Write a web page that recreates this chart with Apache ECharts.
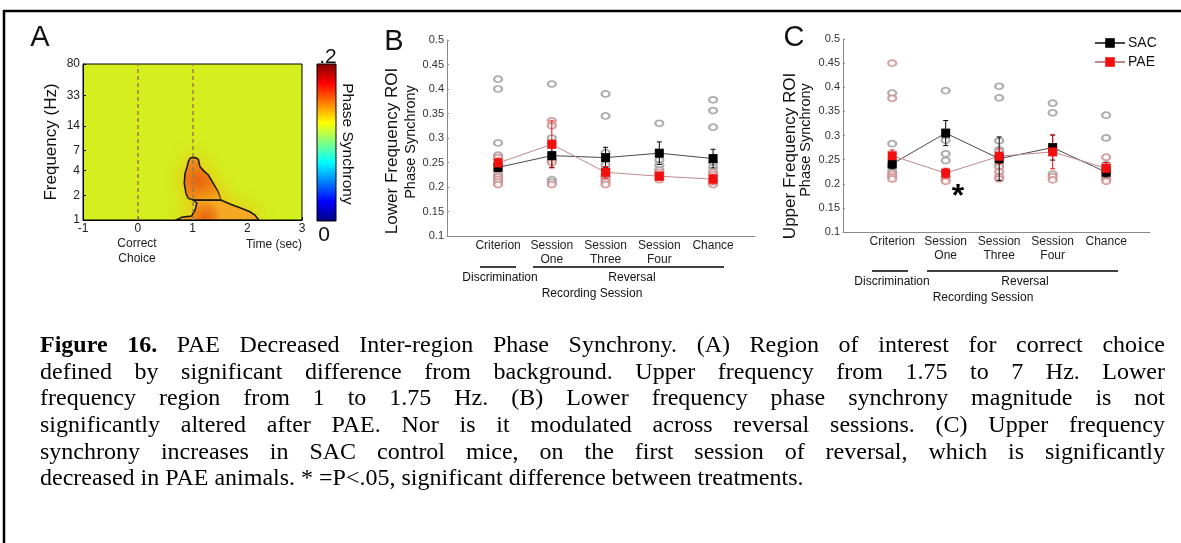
<!DOCTYPE html>
<html><head><meta charset="utf-8">
<script src="https://cdn.jsdelivr.net/npm/echarts@6/dist/echarts.min.js"></script>
<style>html,body{margin:0;padding:0;background:#fff}#c{width:1181px;height:543px}</style>
</head><body><div id="c"></div>
<script>
// ================= DATA =================
// Panel A: time-frequency ROI map
const timeTicks = [-1, 0, 1, 2, 3];
const freqTicks = [1, 2, 4, 7, 14, 33, 80];
const eventTimes = [0, 1];
// ROI contours [time (s), frequency (Hz)]
const roiUpper = [[0.997,5.8],[1.06,5.75],[1.106,5.5],[1.137,4.47],[1.2,4.0],[1.289,3.54],[1.38,2.8],[1.47,2.21],[1.52,1.75],[1.015,1.75],[0.923,1.84],[0.88,2.12],[0.85,2.8],[0.863,3.7],[0.9,4.4],[0.923,5.15],[0.954,5.66]];
const roiLower = [[1.015,1.75],[1.52,1.75],[1.6,1.66],[1.685,1.57],[1.78,1.48],[1.868,1.41],[1.96,1.33],[2.05,1.26],[2.14,1.15],[2.2,1.02],[2.21,1.0],[0.70,1.0],[0.76,1.04],[0.80,1.08],[0.9,1.1],[0.985,1.12],[1.046,1.32],[1.08,1.6]];
const colorbarRange = ['.2', '0'];
const jetColors = ['#7f0000','#ff0000','#ffff00','#00ffff','#0000ff','#00007f'];

// Panels B & C
const sessions = ['Criterion', 'Session\nOne', 'Session\nThree', 'Session\nFour', 'Chance'];
const yTicks = [0.1, 0.15, 0.2, 0.25, 0.3, 0.35, 0.4, 0.45, 0.5];

// B: Lower frequency ROI
const lowSacMean = [0.240, 0.264, 0.260, 0.269, 0.258];
const lowSacSem  = [0.008, 0.024, 0.021, 0.023, 0.019];
const lowPaeMean = [0.249, 0.287, 0.230, 0.222, 0.216];
const lowPaeSem  = [0.010, 0.048, 0.012, 0.008, 0.010];
const lowSacIndiv = [[0.42,0.40,0.29,0.265,0.245,0.225],[0.41,0.30,0.255,0.215,0.21],[0.39,0.345,0.27,0.245,0.235,0.22],[0.33,0.255,0.245,0.235],[0.378,0.356,0.322,0.25,0.24]];
const lowPaeIndiv = [[0.26,0.235,0.22,0.215,0.21,0.205],[0.335,0.325,0.29,0.25,0.205],[0.225,0.215,0.21,0.205],[0.23,0.225,0.22,0.215],[0.23,0.225,0.215,0.21,0.205]];

// C: Upper frequency ROI
const upSacMean = [0.241, 0.305, 0.252, 0.275, 0.224];
const upSacSem  = [0.010, 0.026, 0.045, 0.026, 0.010];
const upPaeMean = [0.258, 0.222, 0.257, 0.266, 0.232];
const upPaeSem  = [0.012, 0.010, 0.015, 0.035, 0.012];
const upSacIndiv = [[0.388,0.283,0.235,0.225],[0.393,0.29,0.262,0.248],[0.402,0.378,0.289,0.27,0.24],[0.367,0.347,0.22],[0.342,0.295,0.24,0.22]];
const upPaeIndiv = [[0.45,0.377,0.24,0.22,0.215,0.21],[0.21,0.205],[0.235,0.225,0.215,0.21],[0.215,0.208],[0.255,0.235,0.225,0.215,0.21,0.205]];
const sigMark = [2.23, 0.172]; // asterisk position (session, value)

// Caption
const captionLines = [
  [['Figure 16.', true], ['PAE Decreased Inter-region Phase Synchrony. (A) Region of interest for correct choice', false]],
  [['defined by significant difference from background. Upper frequency from 1.75 to 7 Hz. Lower', false]],
  [['frequency region from 1 to 1.75 Hz. (B) Lower frequency phase synchrony magnitude is not', false]],
  [['significantly altered after PAE. Nor is it modulated across reversal sessions. (C) Upper frequency', false]],
  [['synchrony increases in SAC control mice, on the first session of reversal, which is significantly', false]],
  [['decreased in PAE animals. * =P<.05, significant difference between treatments.', false]]
];

// ================= BUILD =================
const SANS = '"Liberation Sans", Arial, sans-serif';
const SERIF = '"Liberation Serif", "Times New Roman", serif';
const chart = echarts.init(document.getElementById('c'), null, {renderer: 'canvas'});

function flat(indiv) { const out = []; indiv.forEach((vals, i) => vals.forEach(v => out.push([i + 1, v]))); return out; }
function errData(mean, sem) { return mean.map((m, i) => [i + 1, m, sem[i]]); }
function errRender(params, api) {
  const x = api.value(0), m = api.value(1), e = api.value(2);
  const t = api.coord([x, m + e]), b = api.coord([x, m - e]);
  const w = 2.5, st = {stroke: api.visual('color'), lineWidth: 1};
  return {type: 'group', children: [
    {type: 'line', shape: {x1: t[0], y1: t[1], x2: b[0], y2: b[1]}, style: st},
    {type: 'line', shape: {x1: t[0]-w, y1: t[1], x2: t[0]+w, y2: t[1]}, style: st},
    {type: 'line', shape: {x1: b[0]-w, y1: b[1], x2: b[0]+w, y2: b[1]}, style: st}
  ]};
}
function roiSeries(pts, grad) {
  const data = pts.map(p => [p[0], Math.log(p[1])]);
  return {
    type: 'custom', xAxisIndex: 0, yAxisIndex: 0, data: data, z: 3, clip: true,
    renderItem: function (params, api) {
      if (params.dataIndex !== 0) return null;
      const poly = data.map(d => api.coord(d));
      return {type: 'polygon', shape: {points: poly}, style: {
        fill: new echarts.graphic.RadialGradient(grad[0], grad[1], grad[2], [
          {offset: 0, color: '#e85e10'}, {offset: 0.6, color: '#ee8218'}, {offset: 1, color: '#f4a828'}]),
        stroke: '#1e1a10', lineWidth: 1.6,
        shadowBlur: 18, shadowColor: 'rgba(248,185,20,0.95)'
      }};
    }
  };
}

function catAxisX(grid, min, max) {
  return {gridIndex: grid, type: 'value', min: min, max: max,
    axisLine: {show: true, onZero: false, lineStyle: {color: '#8a8a8a', width: 1}},
    axisTick: {show: false}, splitLine: {show: false},
    axisLabel: {customValues: [1,2,3,4,5], formatter: v => sessions[Math.round(v) - 1],
      fontSize: 12, color: '#222', fontFamily: SANS, margin: 3, lineHeight: 14, verticalAlign: 'top'}};
}
function valAxisY(grid) {
  return {gridIndex: grid, type: 'value', min: yTicks[0], max: yTicks[yTicks.length-1], interval: 0.05,
    axisLine: {show: true, onZero: false, lineStyle: {color: '#8a8a8a', width: 1}},
    axisTick: {show: true, inside: true, length: 2, lineStyle: {color: '#8a8a8a'}},
    splitLine: {show: false},
    axisLabel: {formatter: v => String(Math.round(v * 100) / 100), fontSize: 11, color: '#333', fontFamily: SANS, margin: 3}};
}
function panelSeries(ax, sacInd, paeInd, sacM, sacE, paeM, paeE) {
  return [
    {type: 'scatter', xAxisIndex: ax, yAxisIndex: ax, data: flat(sacInd), symbol: 'emptyCircle', symbolSize: [8, 6],
      itemStyle: {color: '#9a9a9a', borderWidth: 1}, z: 1, silent: true},
    {type: 'scatter', xAxisIndex: ax, yAxisIndex: ax, data: flat(paeInd), symbol: 'emptyCircle', symbolSize: [8, 6],
      itemStyle: {color: '#cc8888', borderWidth: 1}, z: 1, silent: true},
    {type: 'custom', xAxisIndex: ax, yAxisIndex: ax, data: errData(sacM, sacE), renderItem: errRender, itemStyle: {color: '#000'}, z: 2},
    {type: 'custom', xAxisIndex: ax, yAxisIndex: ax, data: errData(paeM, paeE), renderItem: errRender, itemStyle: {color: '#e21010'}, z: 2},
    {name: 'SAC', type: 'line', xAxisIndex: ax, yAxisIndex: ax, data: sacM.map((m, i) => [i + 1, m]),
      symbol: 'rect', symbolSize: 9, showSymbol: true, itemStyle: {color: '#000'}, lineStyle: {color: '#4a4a4a', width: 1}, z: 3},
    {name: 'PAE', type: 'line', xAxisIndex: ax, yAxisIndex: ax, data: paeM.map((m, i) => [i + 1, m]),
      symbol: 'rect', symbolSize: 9, showSymbol: true, itemStyle: {color: '#f01010'}, lineStyle: {color: '#c08a8a', width: 1}, z: 3}
  ];
}

// Caption (justified)
const capSize = 24, capLeft = 40, capRight = 1165, capTop = 346, capLead = 26.6;
function buildCaption() {
  const ctx = document.createElement('canvas').getContext('2d');
  const els = [];
  captionLines.forEach((line, li) => {
    const words = [];
    line.forEach(([txt, bold]) => txt.split(' ').filter(Boolean).forEach(w => words.push({t: w, bold: bold})));
    words.forEach(w => { ctx.font = (w.bold ? 'bold ' : '') + capSize + 'px ' + SERIF; w.w = ctx.measureText(w.t).width; });
    ctx.font = capSize + 'px ' + SERIF;
    const space = ctx.measureText(' ').width;
    const total = words.reduce((s, w) => s + w.w, 0);
    const last = li === captionLines.length - 1;
    const gap = last ? space : (capRight - capLeft - total) / (words.length - 1);
    let x = capLeft;
    words.forEach(w => {
      els.push({type: 'text', x: x, y: capTop + li * capLead, silent: true, style: {text: w.t, fontSize: capSize, fontFamily: SERIF,
        fontWeight: w.bold ? 'bold' : 'normal', fill: '#000', align: 'left', verticalAlign: 'middle'}});
      x += w.w + gap;
    });
  });
  return els;
}
function txt(x, y, s, size, extra) {
  return Object.assign({type: 'text', x: x, y: y, silent: true, style: Object.assign({text: s, fontSize: size, fontFamily: SANS, fill: '#111', align: 'center', verticalAlign: 'middle'}, (extra && extra.style) || {})},
    extra && extra.rotation !== undefined ? {rotation: extra.rotation} : {});
}
function hline(x1, x2, y) { return {type: 'line', silent: true, shape: {x1: x1, y1: y, x2: x2, y2: y}, style: {stroke: '#000', lineWidth: 1.5}}; }

const jetStops = jetColors.map((c, i) => ({offset: [0, 0.125, 0.375, 0.625, 0.875, 1][i], color: c}));

const graphics = [
  {type: 'rect', silent: true, shape: {x: 4, y: 11, width: 1200, height: 600}, style: {fill: 'none', stroke: '#000', lineWidth: 2.5}},
  txt(40, 38, 'A', 29), txt(394, 42, 'B', 29), txt(794, 38, 'C', 29),
  // Panel A texts
  txt(51, 142, 'Frequency (Hz)', 17, {rotation: Math.PI / 2}),
  {type: 'text', x: 137, y: 251, silent: true, style: {text: 'Correct\nChoice', fontSize: 12, lineHeight: 15, fontFamily: SANS, fill: '#222', align: 'center', verticalAlign: 'middle'}},
  txt(274, 245, 'Time (sec)', 12, {style: {fill: '#222'}}),
  {type: 'rect', silent: true, shape: {x: 317, y: 64, width: 19, height: 157},
    style: {fill: new echarts.graphic.LinearGradient(0, 0, 0, 1, jetStops), stroke: '#000', lineWidth: 1}},
  txt(328, 57, colorbarRange[0], 21), txt(324, 235, colorbarRange[1], 21),
  txt(347, 144, 'Phase Synchrony', 15.5, {rotation: -Math.PI / 2}),
  // Panel B texts
  txt(392, 151, 'Lower Frequency ROI', 17, {rotation: Math.PI / 2}),
  txt(411, 142, 'Phase Synchrony', 14.5, {rotation: Math.PI / 2}),
  hline(480, 516, 267), hline(533, 724, 267),
  txt(500, 278, 'Discrimination', 12), txt(632, 278, 'Reversal', 12), txt(592, 294, 'Recording Session', 12),
  // Panel C texts
  txt(790, 156, 'Upper Frequency ROI', 17, {rotation: Math.PI / 2}),
  txt(806, 140, 'Phase Synchrony', 14.5, {rotation: Math.PI / 2}),
  hline(872, 908, 271), hline(927, 1118, 271),
  txt(892, 282, 'Discrimination', 12), txt(1025, 282, 'Reversal', 12), txt(983, 298, 'Recording Session', 12)
].concat(buildCaption());

const seriesB = panelSeries(1, lowSacIndiv, lowPaeIndiv, lowSacMean, lowSacSem, lowPaeMean, lowPaeSem);
const seriesC = panelSeries(2, upSacIndiv, upPaeIndiv, upSacMean, upSacSem, upPaeMean, upPaeSem);
seriesC[5].markPoint = {symbol: 'circle', symbolSize: 0, silent: true,
  data: [{coord: sigMark, value: '*'}],
  label: {show: true, formatter: '*', fontSize: 32, fontWeight: 'bold', color: '#000', fontFamily: SANS}};

const roiU = roiSeries(roiUpper, [0.4, 0.55, 0.75]);
roiU.markLine = {symbol: 'none', silent: true, label: {show: false},
  lineStyle: {type: [4, 3], color: '#9c7b52', width: 1.5},
  data: eventTimes.map(t => ({xAxis: t}))};
const roiL = roiSeries(roiLower, [0.35, 0.85, 0.8]);

const option = {
  animation: false,
  backgroundColor: '#fff',
  textStyle: {fontFamily: SANS},
  grid: [
    {left: 83, top: 64, width: 219, height: 156, show: true, backgroundColor: '#d4ee1e', borderColor: '#000', borderWidth: 1},
    {left: 447, top: 40, width: 308, height: 196},
    {left: 843, top: 39, width: 307, height: 193}
  ],
  xAxis: [
    {gridIndex: 0, type: 'value', min: timeTicks[0], max: timeTicks[timeTicks.length-1], interval: 1,
      axisLine: {show: true, onZero: false, lineStyle: {color: '#000'}}, axisTick: {inside: true, length: 3, lineStyle: {color: '#000'}},
      splitLine: {show: false}, axisLabel: {fontSize: 12, color: '#222', margin: 3, fontFamily: SANS}},
    catAxisX(1, 0.05, 5.78),
    catAxisX(2, 0.08, 5.82)
  ],
  yAxis: [
    {gridIndex: 0, type: 'value', min: 0, max: Math.log(freqTicks[freqTicks.length-1]),
      axisLine: {show: true, onZero: false, lineStyle: {color: '#000'}},
      axisTick: {inside: true, length: 3, customValues: freqTicks.map(Math.log), lineStyle: {color: '#000'}},
      splitLine: {show: false},
      axisLabel: {customValues: freqTicks.map(Math.log), formatter: v => String(Math.round(Math.exp(v))), fontSize: 12, color: '#222', margin: 3, fontFamily: SANS}},
    valAxisY(1),
    valAxisY(2)
  ],
  legend: {data: ['SAC', 'PAE'], orient: 'vertical', left: 1094, top: 36, itemWidth: 30, itemHeight: 12, itemGap: 5,
    selectedMode: false, padding: 0, textStyle: {fontSize: 14, color: '#111', fontFamily: SANS, padding: [0, 0, 0, -2]}},
  series: [roiU, roiL].concat(seriesB, seriesC),
  graphic: graphics
};
chart.setOption(option);
</script></body></html>
